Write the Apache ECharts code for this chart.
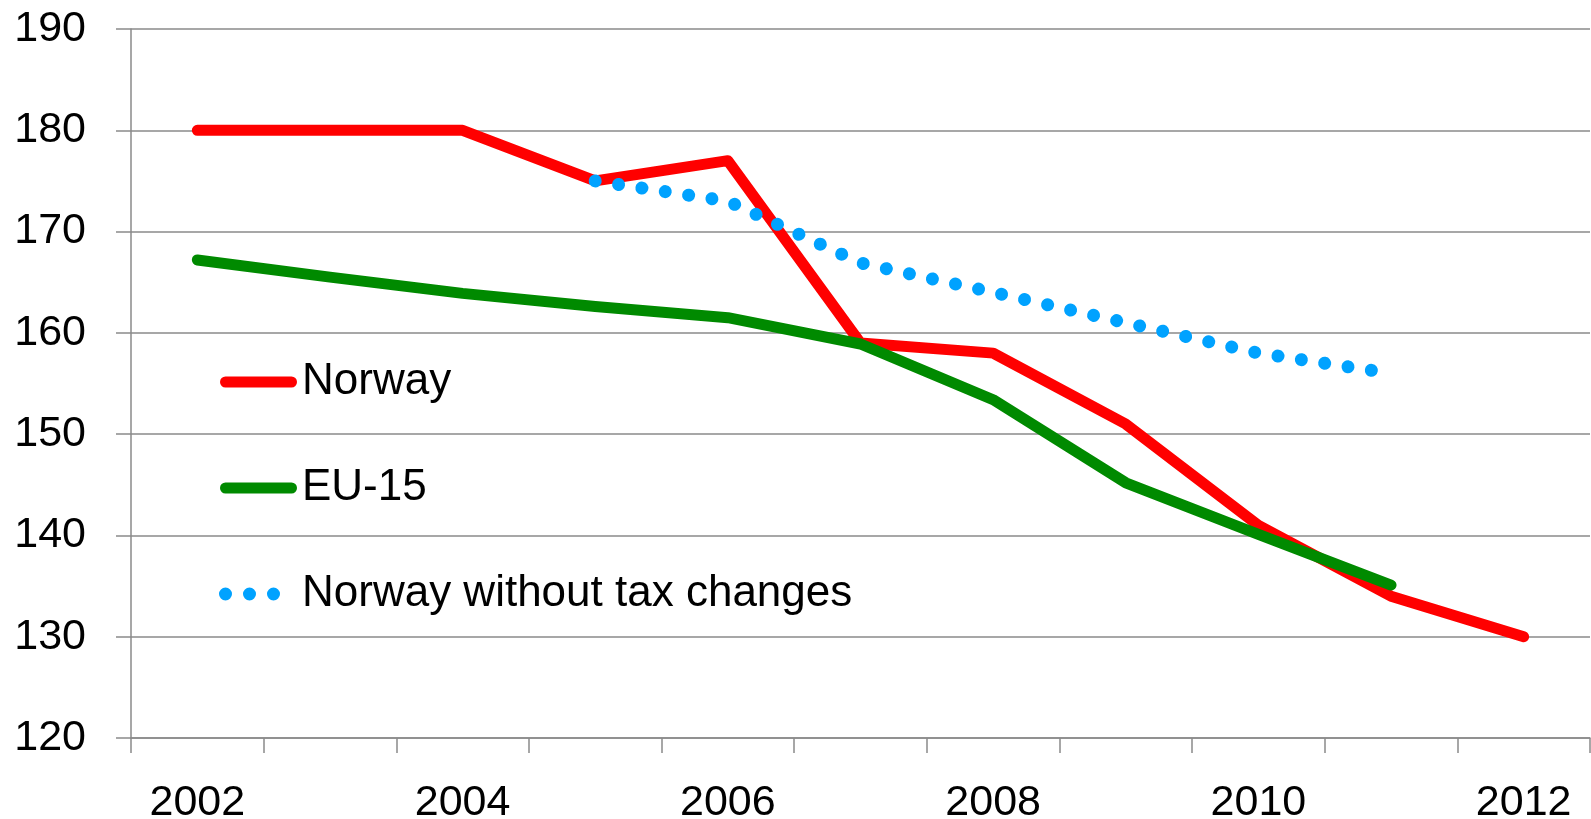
<!DOCTYPE html>
<html>
<head>
<meta charset="utf-8">
<title>Norway vs EU-15</title>
<script src="https://cdn.jsdelivr.net/npm/echarts@6/dist/echarts.min.js"></script>
<style>
  html, body { margin: 0; padding: 0; background: #fff; }
  #chart { width: 1591px; height: 819px; }
</style>
</head>
<body>
<div id="chart"></div>
<script>
// Categories and series values
const years = ['2002', '2003', '2004', '2005', '2006', '2007', '2008', '2009', '2010', '2011', '2012'];
const norway = [180, 180, 180, 175, 177, 159, 158, 151, 141, 134, 130];
const eu15 = [167.2, 165.5, 163.9, 162.6, 161.5, 158.9, 153.4, 145.2, 140.1, 135.1, null];
const norwayNoTax = [null, null, null, 175, 173, 166.9, 164, 161, 158, 156, null];

const FONT = "'Liberation Sans', Arial, sans-serif";
const GRID_GREY = '#8a8a8a';
const RED = '#ff0000';
const GREEN = '#008a00';
const BLUE = '#00a2ff';

// Legend glyphs: a thick rounded bar and a row of three dots
const BAR_ICON = 'path://M5.5,0 H71.5 A5.5,5.5 0 0 1 71.5,11 H5.5 A5.5,5.5 0 0 1 5.5,0 Z';
const DOTS_ICON = 'path://M0,6.5 A6.5,6.5 0 1 0 13,6.5 A6.5,6.5 0 1 0 0,6.5 Z ' +
                  'M24,6.5 A6.5,6.5 0 1 0 37,6.5 A6.5,6.5 0 1 0 24,6.5 Z ' +
                  'M48,6.5 A6.5,6.5 0 1 0 61,6.5 A6.5,6.5 0 1 0 48,6.5 Z';

const legendText = { fontSize: 44, fontFamily: FONT, color: '#000' };

const chart = echarts.init(document.getElementById('chart'), null, { renderer: 'canvas' });

chart.setOption({
  animation: false,
  backgroundColor: '#fff',
  grid: { left: 131, right: 1, top: 29, bottom: 81, containLabel: false, outerBoundsMode: 'none' },
  legend: [
    {
      data: [{ name: 'Norway', icon: BAR_ICON }],
      left: 220, top: 360, padding: 0,
      itemWidth: 77, itemHeight: 11,
      selectedMode: false,
      itemStyle: { borderWidth: 0 },
      textStyle: legendText
    },
    {
      data: [{ name: 'EU-15', icon: BAR_ICON }],
      left: 220, top: 466, padding: 0,
      itemWidth: 77, itemHeight: 11,
      selectedMode: false,
      itemStyle: { borderWidth: 0 },
      textStyle: legendText
    },
    {
      data: [{ name: 'Norway without tax changes', icon: DOTS_ICON }],
      left: 219, top: 572, padding: 0,
      itemWidth: 61, itemHeight: 13,
      selectedMode: false,
      itemStyle: { borderWidth: 0 },
      textStyle: Object.assign({ padding: [0, 0, 0, 17] }, legendText)
    }
  ],
  xAxis: {
    type: 'category',
    data: years,
    boundaryGap: true,
    axisLine: { show: true, lineStyle: { color: GRID_GREY, width: 1.5 } },
    axisTick: { show: true, interval: 0, length: 15, lineStyle: { color: GRID_GREY, width: 1.5 } },
    axisLabel: { interval: 1, margin: 44, fontSize: 43, fontFamily: FONT, color: '#000' },
    splitLine: { show: false }
  },
  yAxis: {
    type: 'value',
    min: 120, max: 190, interval: 10,
    axisLine: { show: true, lineStyle: { color: GRID_GREY, width: 1.5 } },
    axisTick: { show: true, length: 15, lineStyle: { color: GRID_GREY, width: 1.5 } },
    axisLabel: { margin: 45, fontSize: 43, fontFamily: FONT, color: '#000' },
    splitLine: { show: true, lineStyle: { color: GRID_GREY, width: 1.5 } }
  },
  series: [
    {
      name: 'Norway',
      type: 'line',
      data: norway,
      symbol: 'none',
      color: RED,
      lineStyle: { color: RED, width: 11, cap: 'round', join: 'round' },
      z: 2
    },
    {
      name: 'EU-15',
      type: 'line',
      data: eu15,
      symbol: 'none',
      color: GREEN,
      lineStyle: { color: GREEN, width: 11, cap: 'round', join: 'round' },
      z: 3
    },
    {
      name: 'Norway without tax changes',
      type: 'line',
      data: norwayNoTax,
      symbol: 'none',
      color: BLUE,
      lineStyle: { color: BLUE, width: 13, type: [0.01, 23.6], cap: 'round', join: 'round' },
      z: 4
    }
  ]
});
</script>
</body>
</html>
